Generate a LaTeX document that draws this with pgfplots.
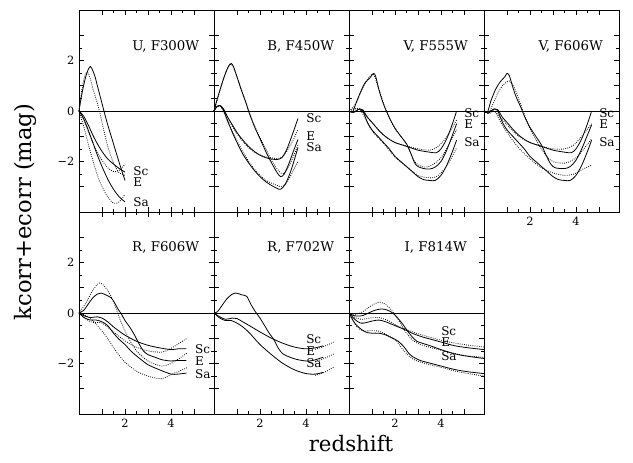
\documentclass[border=0pt]{standalone}
\usepackage{fontspec}
\setmainfont{DejaVu Serif}
\usepackage{pgfplots}
\pgfplotsset{compat=1.18}

\pgfplotsset{
  panel/.style={
    scale only axis, width=101.25pt, height=151.5pt,
    anchor=north west,
    xmin=0, xmax=5.87, ymin=-4, ymax=4,
    xtick={1,2,3,4,5}, ytick={-3,-2,-1,0,1,2,3},
    minor x tick num=1, minor y tick num=1,
    tick align=inside, major tick length=4pt, minor tick length=2.2pt,
    xticklabels={}, yticklabels={},
    xticklabel pos=lower, yticklabel pos=left,
    axis line style={line width=0.6pt},
    every tick/.style={black, line width=0.5pt},
    tick label style={font=\fontsize{8.5}{10}\selectfont},
    clip=false,
  },
  xlab/.style={xticklabels={,2,,4,}},
  ylab/.style={yticklabels={,−2,,0,,2,}},
  sol/.style={black, line width=0.6pt, smooth, tension=0.5, no markers},
  dot/.style={black, line width=0.6pt, densely dotted, smooth, tension=0.5, no markers},
  zero/.style={black, line width=0.5pt, no markers},
}
\tikzset{
  ttl/.style={font=\fontsize{10}{12}\selectfont, anchor=center},
  lab/.style={font=\fontsize{9}{11}\selectfont, anchor=west, inner sep=0pt,
    text height=6pt, text depth=0pt},
}

\begin{document}
\begin{tikzpicture}
\path[use as bounding box] (0,0) rectangle (474.75pt,346.5pt);

% ---------- U, F300W
\begin{axis}[panel, ylab, at={(59.25pt,339pt)}]
\addplot[zero] coordinates {(0,0) (5.87,0)};
\addplot[sol] coordinates {(0,0) (0.1,0.55) (0.2,1.0) (0.3,1.38) (0.4,1.64) (0.5,1.76) (0.6,1.6) (0.7,1.35) (0.8,1.0) (0.9,0.65) (1.0,0.3) (1.1,-0.05) (1.25,-0.55) (1.5,-1.3) (1.75,-2.05) (2.0,-2.75)};
\addplot[dot] coordinates {(0,0) (0.1,0.7) (0.2,1.2) (0.3,1.5) (0.4,1.5) (0.5,1.25) (0.6,0.9) (0.7,0.6) (0.8,0.3) (0.9,-0.05) (1.0,-0.45) (1.25,-1.4) (1.5,-2.05) (1.75,-2.45) (2.0,-2.55)};
\addplot[sol] coordinates {(0,0) (0.2,-0.2) (0.4,-0.55) (0.6,-0.95) (0.8,-1.3) (1.0,-1.6) (1.25,-1.9) (1.5,-2.1) (1.75,-2.28) (2.0,-2.42)};
\addplot[dot] coordinates {(0,0) (0.2,-0.35) (0.4,-0.8) (0.6,-1.25) (0.8,-1.65) (1.0,-1.95) (1.25,-2.25) (1.5,-2.4) (1.75,-2.35) (2.0,-2.1)};
\addplot[sol] coordinates {(0,0) (0.2,-0.3) (0.4,-0.75) (0.6,-1.25) (0.8,-1.75) (1.0,-2.2) (1.25,-2.7) (1.5,-3.1) (1.75,-3.4) (2.0,-3.6)};
\addplot[dot] coordinates {(0,0) (0.2,-0.6) (0.4,-1.3) (0.6,-1.95) (0.8,-2.55) (1.0,-3.0) (1.25,-3.4) (1.5,-3.65) (1.75,-3.6) (2.0,-3.3)};
\node[ttl] at (axis cs:3.77,2.55) {U, F300W};
\node[lab] at (axis cs:2.35,-2.4) {Sc};
\node[lab] at (axis cs:2.35,-2.85) {E};
\node[lab] at (axis cs:2.35,-3.63) {Sa};
\end{axis}

% ---------- B, F450W
\begin{axis}[panel, at={(160.5pt,339pt)}]
\addplot[zero] coordinates {(0,0) (5.87,0)};
\addplot[sol] coordinates {(0,0) (0.1,0.35) (0.3,0.95) (0.5,1.5) (0.65,1.8) (0.75,1.88) (0.85,1.75) (1.0,1.35) (1.2,0.8) (1.4,0.3) (1.5,0.0) (1.75,-0.6) (2.0,-1.1) (2.25,-1.6) (2.5,-2.05) (2.75,-2.45) (2.9,-2.6) (3.05,-2.5) (3.25,-2.1) (3.45,-1.6) (3.65,-1.13)};
\addplot[dot] coordinates {(0,0) (0.15,0.45) (0.3,0.95) (0.5,1.5) (0.65,1.78) (0.75,1.85) (0.85,1.72) (1.0,1.35) (1.25,0.7) (1.5,0.05) (1.75,-0.55) (2.0,-1.05) (2.25,-1.5) (2.5,-1.95) (2.75,-2.3) (2.95,-2.48) (3.1,-2.42) (3.3,-2.1) (3.5,-1.7) (3.65,-1.35)};
\addplot[sol] coordinates {(0,0) (0.1,0.15) (0.25,0.22) (0.4,0.1) (0.6,-0.25) (0.8,-0.55) (1.0,-0.85) (1.25,-1.15) (1.5,-1.4) (1.75,-1.6) (2.0,-1.75) (2.25,-1.85) (2.5,-1.9) (2.75,-1.92) (2.95,-1.85) (3.15,-1.55) (3.4,-0.95) (3.65,-0.3)};
\addplot[dot] coordinates {(0,0) (0.1,0.14) (0.25,0.2) (0.4,0.08) (0.6,-0.3) (0.8,-0.62) (1.0,-0.9) (1.25,-1.2) (1.5,-1.45) (1.75,-1.62) (2.0,-1.74) (2.25,-1.82) (2.5,-1.86) (2.75,-1.88) (2.95,-1.82) (3.15,-1.62) (3.4,-1.22) (3.65,-0.75)};
\addplot[sol] coordinates {(0,0) (0.1,0.15) (0.25,0.22) (0.4,0.05) (0.6,-0.4) (0.8,-0.85) (1.0,-1.25) (1.25,-1.7) (1.5,-2.05) (1.75,-2.35) (2.0,-2.6) (2.25,-2.8) (2.5,-2.95) (2.75,-3.07) (2.9,-3.1) (3.1,-2.9) (3.35,-2.35) (3.65,-1.45)};
\addplot[dot] coordinates {(0,0) (0.1,0.14) (0.25,0.2) (0.4,0.02) (0.6,-0.45) (0.8,-0.82) (1.0,-1.18) (1.25,-1.6) (1.5,-1.98) (1.75,-2.3) (2.0,-2.55) (2.25,-2.74) (2.5,-2.86) (2.75,-2.95) (2.95,-3.0) (3.15,-2.85) (3.4,-2.45) (3.65,-2.0)};
\node[ttl] at (axis cs:3.77,2.55) {B, F450W};
\node[lab] at (axis cs:4.01,-0.29) {Sc};
\node[lab] at (axis cs:4.01,-1.0) {E};
\node[lab] at (axis cs:4.01,-1.45) {Sa};
\end{axis}

% ---------- V, F555W
\begin{axis}[panel, at={(261.75pt,339pt)}]
\addplot[zero] coordinates {(0,0) (5.87,0)};
\addplot[sol] coordinates {(0,0) (0.15,-0.05) (0.3,0.3) (0.5,0.75) (0.7,1.12) (0.9,1.3) (1.05,1.48) (1.15,1.4) (1.3,0.85) (1.45,0.4) (1.6,0.05) (1.8,-0.35) (2.0,-0.68) (2.25,-1.0) (2.5,-1.3) (2.7,-1.7) (2.85,-2.05) (3.0,-2.2) (3.25,-2.28) (3.5,-2.3) (3.75,-2.22) (4.0,-2.0) (4.25,-1.55) (4.5,-0.95) (4.68,-0.5)};
\addplot[dot] coordinates {(0,0) (0.3,0.3) (0.7,1.1) (1.05,1.45) (1.3,0.85) (1.6,0.05) (2.0,-0.7) (2.5,-1.3) (2.85,-2.0) (3.25,-2.22) (3.6,-2.15) (4.0,-1.85) (4.3,-1.4) (4.68,-0.75)};
\addplot[sol] coordinates {(0,0) (0.2,-0.05) (0.45,0.08) (0.6,0.05) (0.8,-0.25) (1.0,-0.45) (1.25,-0.72) (1.5,-0.95) (1.75,-1.12) (2.0,-1.25) (2.5,-1.4) (3.0,-1.55) (3.5,-1.63) (3.8,-1.65) (4.0,-1.5) (4.25,-1.1) (4.5,-0.5) (4.68,0.0)};
\addplot[dot] coordinates {(0,0) (0.45,0.08) (1.0,-0.45) (1.5,-0.95) (2.0,-1.25) (2.5,-1.38) (3.0,-1.5) (3.5,-1.55) (3.8,-1.45) (4.1,-1.2) (4.4,-0.8) (4.68,-0.35)};
\addplot[sol] coordinates {(0,0) (0.2,-0.05) (0.45,0.08) (0.6,0.0) (0.8,-0.45) (1.0,-0.75) (1.25,-1.0) (1.5,-1.25) (1.75,-1.5) (2.0,-1.8) (2.25,-2.0) (2.5,-2.2) (2.75,-2.4) (3.0,-2.6) (3.25,-2.72) (3.5,-2.75) (3.75,-2.75) (4.0,-2.55) (4.25,-2.15) (4.5,-1.6) (4.68,-1.15)};
\addplot[dot] coordinates {(0,0) (0.45,0.08) (1.0,-0.78) (1.5,-1.28) (2.0,-1.82) (2.5,-2.2) (3.0,-2.55) (3.5,-2.65) (3.8,-2.6) (4.1,-2.35) (4.4,-1.95) (4.68,-1.45)};
\node[ttl] at (axis cs:3.77,2.55) {V, F555W};
\node[lab] at (axis cs:5.0,-0.1) {Sc};
\node[lab] at (axis cs:5.0,-0.52) {E};
\node[lab] at (axis cs:5.0,-1.23) {Sa};
\end{axis}

% ---------- V, F606W
\begin{axis}[panel, xlab, at={(363pt,339pt)}]
\addplot[zero] coordinates {(0,0) (5.87,0)};
\addplot[sol] coordinates {(0,0) (0.15,-0.05) (0.3,0.4) (0.5,0.85) (0.7,1.15) (0.9,1.35) (1.0,1.49) (1.1,1.4) (1.25,0.95) (1.4,0.55) (1.6,0.15) (1.8,-0.3) (2.0,-0.65) (2.25,-1.0) (2.5,-1.35) (2.7,-1.75) (2.9,-2.1) (3.1,-2.25) (3.5,-2.28) (3.75,-2.2) (4.0,-1.95) (4.25,-1.5) (4.5,-0.95) (4.68,-0.55)};
\addplot[dot] coordinates {(0,0) (0.2,-0.1) (0.4,0.3) (0.6,0.7) (0.8,1.0) (1.1,1.19) (1.3,0.95) (1.5,0.5) (1.7,0.0) (2.0,-0.7) (2.3,-1.2) (2.6,-1.65) (2.9,-1.95) (3.2,-2.05) (3.6,-2.05) (4.0,-1.85) (4.3,-1.55) (4.68,-1.1)};
\addplot[sol] coordinates {(0,0) (0.2,-0.05) (0.45,0.08) (0.6,0.05) (0.8,-0.25) (1.0,-0.45) (1.25,-0.72) (1.5,-0.95) (1.75,-1.12) (2.0,-1.25) (2.5,-1.4) (3.0,-1.55) (3.5,-1.63) (3.8,-1.65) (4.0,-1.5) (4.25,-1.1) (4.5,-0.5) (4.68,0.0)};
\addplot[dot] coordinates {(0,0) (0.2,-0.1) (0.45,0.0) (0.7,-0.25) (1.0,-0.55) (1.5,-1.0) (2.0,-1.25) (2.5,-1.4) (3.0,-1.5) (3.5,-1.5) (3.9,-1.35) (4.3,-0.95) (4.68,-0.5)};
\addplot[sol] coordinates {(0,0) (0.2,-0.05) (0.45,0.08) (0.6,0.0) (0.8,-0.45) (1.0,-0.75) (1.25,-1.0) (1.5,-1.25) (1.75,-1.5) (2.0,-1.8) (2.25,-2.0) (2.5,-2.2) (2.75,-2.4) (3.0,-2.6) (3.25,-2.72) (3.5,-2.75) (3.75,-2.75) (4.0,-2.55) (4.25,-2.15) (4.5,-1.6) (4.68,-1.15)};
\addplot[dot] coordinates {(0,0) (0.2,-0.1) (0.45,0.0) (0.7,-0.4) (1.0,-0.85) (1.5,-1.45) (2.0,-1.9) (2.5,-2.25) (3.0,-2.45) (3.5,-2.55) (3.9,-2.5) (4.3,-2.3) (4.68,-2.15)};
\node[ttl] at (axis cs:3.77,2.55) {V, F606W};
\node[lab] at (axis cs:5.0,-0.1) {Sc};
\node[lab] at (axis cs:5.0,-0.52) {E};
\node[lab] at (axis cs:5.0,-1.23) {Sa};
\end{axis}

% ---------- R, F606W
\begin{axis}[panel, xlab, ylab, at={(59.25pt,187.5pt)}]
\addplot[zero] coordinates {(0,0) (5.87,0)};
\addplot[sol] coordinates {(0,0) (0.2,0.1) (0.4,0.35) (0.6,0.6) (0.8,0.75) (0.97,0.79) (1.2,0.7) (1.4,0.6) (1.55,0.4) (1.7,0.15) (1.85,-0.05) (2.0,-0.3) (2.2,-0.55) (2.4,-0.85) (2.6,-1.2) (2.8,-1.5) (3.0,-1.65) (3.3,-1.75) (3.6,-1.85) (4.0,-1.9) (4.3,-1.88) (4.67,-1.88)};
\addplot[dot] coordinates {(0,0) (0.3,0.4) (0.6,0.9) (0.9,1.19) (1.2,0.95) (1.5,0.45) (1.8,-0.3) (2.1,-0.9) (2.5,-1.5) (3.0,-1.9) (3.6,-2.1) (4.1,-1.95) (4.7,-1.58)};
\addplot[sol] coordinates {(0,0) (0.25,-0.12) (0.5,-0.18) (0.8,-0.15) (1.0,-0.2) (1.25,-0.35) (1.5,-0.55) (1.75,-0.72) (2.0,-0.88) (2.5,-1.12) (3.0,-1.28) (3.5,-1.38) (4.0,-1.45) (4.3,-1.42) (4.67,-1.42)};
\addplot[dot] coordinates {(0,0) (0.5,-0.35) (1.0,-0.4) (1.5,-0.75) (2.0,-1.1) (2.5,-1.35) (3.0,-1.5) (3.6,-1.55) (4.0,-1.4) (4.7,-1.0)};
\addplot[sol] coordinates {(0,0) (0.25,-0.2) (0.5,-0.28) (0.75,-0.28) (1.0,-0.35) (1.25,-0.5) (1.5,-0.8) (1.75,-1.05) (2.0,-1.25) (2.25,-1.5) (2.5,-1.7) (2.75,-1.88) (3.0,-2.05) (3.5,-2.25) (4.0,-2.42) (4.3,-2.42) (4.67,-2.38)};
\addplot[dot] coordinates {(0,0) (0.4,-0.15) (0.8,-0.5) (1.2,-0.95) (1.6,-1.5) (2.0,-1.95) (2.5,-2.3) (3.0,-2.5) (3.6,-2.6) (4.1,-2.4) (4.7,-2.17)};
\node[ttl] at (axis cs:3.77,2.6) {R, F606W};
\node[lab] at (axis cs:5.04,-1.45) {Sc};
\node[lab] at (axis cs:5.04,-1.91) {E};
\node[lab] at (axis cs:5.04,-2.44) {Sa};
\end{axis}

% ---------- R, F702W
\begin{axis}[panel, xlab, at={(160.5pt,187.5pt)}]
\addplot[zero] coordinates {(0,0) (5.87,0)};
\addplot[sol] coordinates {(0,0) (0.15,0.05) (0.35,0.3) (0.55,0.55) (0.75,0.72) (0.95,0.79) (1.2,0.72) (1.42,0.66) (1.6,0.35) (1.8,0.05) (2.0,-0.2) (2.2,-0.5) (2.4,-0.8) (2.6,-1.05) (2.8,-1.4) (3.0,-1.62) (3.3,-1.75) (3.6,-1.84) (4.0,-1.9) (4.3,-1.88) (4.75,-1.75)};
\addplot[dot] coordinates {(4.4,-1.92) (4.8,-1.8) (5.2,-1.62)};
\addplot[sol] coordinates {(0,0) (0.25,-0.15) (0.5,-0.25) (0.8,-0.2) (1.0,-0.22) (1.25,-0.35) (1.5,-0.48) (2.0,-0.75) (2.5,-1.0) (3.0,-1.2) (3.5,-1.35) (4.0,-1.42) (4.4,-1.38) (4.75,-1.3)};
\addplot[dot] coordinates {(4.4,-1.44) (4.8,-1.32) (5.2,-1.15)};
\addplot[sol] coordinates {(0,0) (0.25,-0.2) (0.5,-0.3) (0.75,-0.3) (1.0,-0.4) (1.25,-0.55) (1.5,-0.75) (1.75,-1.0) (2.0,-1.25) (2.5,-1.65) (3.0,-2.0) (3.5,-2.25) (4.0,-2.4) (4.4,-2.42) (4.75,-2.35)};
\addplot[dot] coordinates {(4.4,-2.47) (4.8,-2.35) (5.2,-2.15)};
\node[ttl] at (axis cs:3.77,2.6) {R, F702W};
\node[lab] at (axis cs:4.0,-1.03) {Sc};
\node[lab] at (axis cs:4.0,-1.52) {E};
\node[lab] at (axis cs:4.0,-2.0) {Sa};
\end{axis}

% ---------- I, F814W
\begin{axis}[panel, xlab, at={(261.75pt,187.5pt)}]
\addplot[zero] coordinates {(0,0) (5.87,0)};
\addplot[sol] coordinates {(0,0) (0.2,-0.1) (0.4,-0.12) (0.6,-0.1) (0.85,0.0) (1.1,0.1) (1.4,0.16) (1.65,0.12) (1.9,0.0) (2.1,-0.18) (2.35,-0.46) (2.55,-0.72) (2.75,-0.95) (2.95,-1.12) (3.2,-1.2) (3.6,-1.32) (4.0,-1.45) (4.6,-1.62) (5.2,-1.72) (5.87,-1.8)};
\addplot[dot] coordinates {(0,0) (0.3,-0.05) (0.6,0.05) (0.9,0.25) (1.2,0.4) (1.4,0.42) (1.65,0.3) (1.9,0.05) (2.2,-0.35) (2.5,-0.8) (2.8,-1.1) (3.1,-1.25) (3.6,-1.38) (4.2,-1.52) (5.0,-1.68) (5.87,-1.76)};
\addplot[sol] coordinates {(0,0) (0.25,-0.25) (0.5,-0.4) (0.75,-0.38) (1.0,-0.32) (1.3,-0.28) (1.6,-0.35) (2.0,-0.5) (2.4,-0.65) (2.8,-0.82) (3.2,-0.95) (3.6,-1.05) (4.2,-1.2) (4.6,-1.3) (5.2,-1.38) (5.87,-1.45)};
\addplot[dot] coordinates {(0,0) (0.3,-0.2) (0.6,-0.25) (0.9,-0.2) (1.3,-0.18) (1.7,-0.3) (2.1,-0.5) (2.5,-0.65) (3.0,-0.82) (3.6,-0.98) (4.2,-1.12) (5.0,-1.25) (5.87,-1.35)};
\addplot[sol] coordinates {(0,0) (0.25,-0.4) (0.55,-0.66) (0.8,-0.78) (1.0,-0.8) (1.3,-0.8) (1.57,-0.86) (1.85,-0.98) (2.14,-1.12) (2.4,-1.35) (2.6,-1.6) (2.75,-1.72) (3.1,-1.88) (3.5,-1.98) (4.0,-2.1) (4.6,-2.24) (5.2,-2.33) (5.87,-2.4)};
\addplot[dot] coordinates {(0,0) (0.3,-0.5) (0.6,-0.7) (1.0,-0.7) (1.3,-0.72) (1.6,-0.85) (2.0,-1.05) (2.3,-1.4) (2.6,-1.7) (2.9,-1.88) (3.4,-2.02) (4.0,-2.15) (4.6,-2.3) (5.2,-2.4) (5.87,-2.5)};
\node[ttl] at (axis cs:3.77,2.6) {I, F814W};
\node[lab] at (axis cs:4.0,-0.75) {Sc};
\node[lab] at (axis cs:4.0,-1.15) {E};
\node[lab] at (axis cs:4.0,-1.74) {Sa};
\end{axis}

\node[rotate=90, font=\fontsize{17}{20}\selectfont] at (18.75pt,187.5pt) {kcorr+ecorr (mag)};
\node[font=\fontsize{16}{19}\selectfont] at (263.25pt,14pt) {redshift};
\end{tikzpicture}
\end{document}
